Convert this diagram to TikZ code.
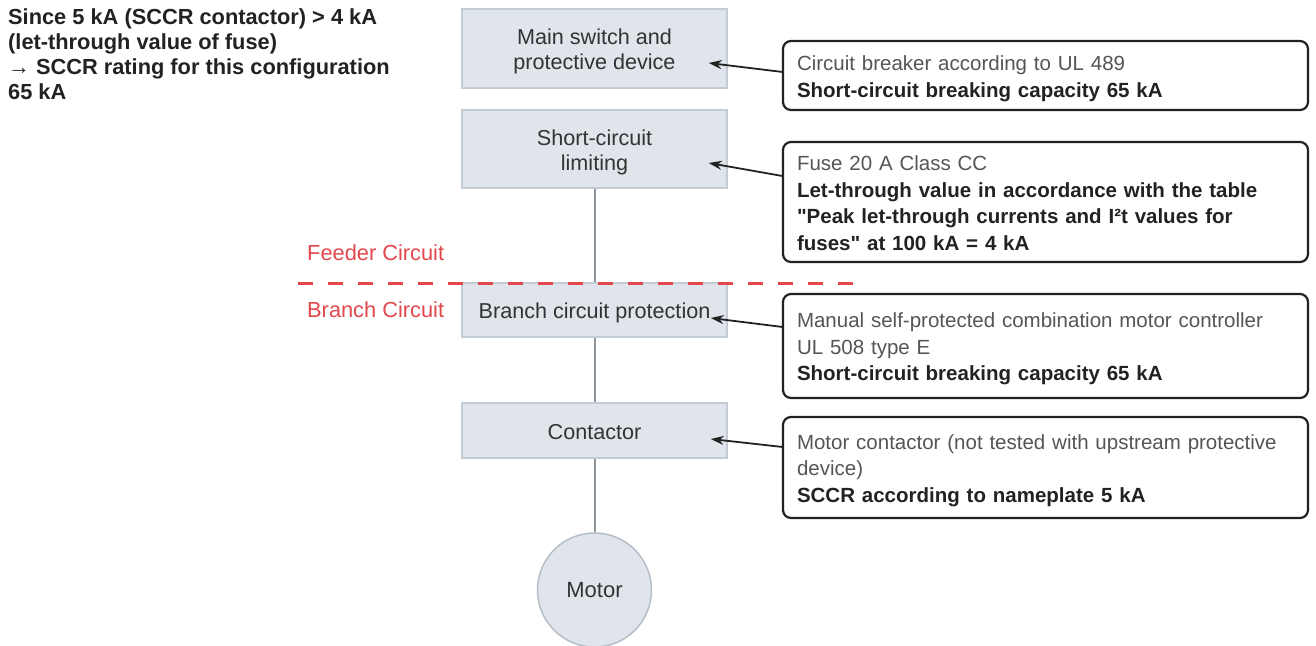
\documentclass[tikz,border=0pt]{standalone}
\usepackage{fontspec}
\setmainfont{Liberation Sans}
\setmonofont{Liberation Sans}
\usetikzlibrary{arrows.meta,calc}
\definecolor{boxfill}{HTML}{DFE5EB}
\definecolor{boxline}{HTML}{C3CCD5}
\definecolor{motorline}{HTML}{B5BEC7}
\definecolor{wirec}{HTML}{8D969E}
\definecolor{redc}{HTML}{E2474C}
\definecolor{txt}{HTML}{333333}
\definecolor{txtlight}{HTML}{555555}
\definecolor{txtdark}{HTML}{222222}
\newcommand\topstrut{\rule{0pt}{22.5pt}}
\newcommand\botstrut{\rule[-5pt]{0pt}{5pt}}
\newcommand\ntopstrut{\rule{0pt}{21pt}}
\newcommand\nbotstrut{\rule[-4.5pt]{0pt}{4.5pt}}
\newcommand\sq{{\ttfamily"}}
\begin{document}
\begin{tikzpicture}[x=1pt,y=-1pt,
 stage/.style={draw=boxline, line width=1.5pt, fill=boxfill, minimum width=265pt, align=center, text=txt, font=\fontsize{21.6}{25}\selectfont, inner sep=0pt},
 note/.style={draw=txtdark, line width=2.2pt, rounded corners=8pt, fill=white, text width=497pt, inner xsep=14pt, inner ysep=0pt, align=left, font=\fontsize{20.5}{26.5}\selectfont, text=txtlight},
 wire/.style={draw=wirec, line width=2pt},
 ptr/.style={draw=txtdark, line width=1.8pt, -{Stealth[length=13pt,width=9pt]}},
 lbl/.style={text=redc, font=\fontsize{21.8}{24}\selectfont, anchor=west, inner sep=0pt},
 hl/.style={text=txtdark, font=\fontsize{21.8}{24.7}\selectfont\bfseries, anchor=north west, inner sep=0pt, align=left},
]
\useasboundingbox (0,0) rectangle (1316,645);
% summary
\node[hl] (sum) at (8,9) {Since 5 kA (SCCR contactor) > 4 kA\\(let-through value of fuse)\\→ SCCR rating for this configuration\\65 kA};
% chain
\node[stage, minimum height=79pt] (b1) at (594.5,48.5) {\topstrut Main switch and\\protective device\botstrut};
\node[stage, minimum height=78pt] (b2) at (594.5,149) {\topstrut Short-circuit\\limiting\botstrut};
\node[stage, minimum height=54pt] (b3) at (594.5,310) {\topstrut Branch circuit protection\botstrut};
\node[stage, minimum height=55pt] (b4) at (594.5,430.5) {\topstrut Contactor\botstrut};
\node[circle, draw=motorline, fill=boxfill, line width=1.5pt, minimum size=114pt, inner sep=0pt, text=txt, font=\fontsize{22}{24}\selectfont] (m) at (594.5,590) {Motor};
\draw[wire] (b2.south) -- (b3.north);
\draw[wire] (b3.south) -- (b4.north);
\draw[wire] (b4.south) -- (m.north);
% notes
\node[note, minimum height=69pt] (na) at (1045.5,75.5) {\ntopstrut Circuit breaker according to UL 489\\{\color{txtdark}\bfseries Short-circuit breaking capacity 65 kA}\nbotstrut};
\node[note, minimum height=120pt] (nb) at (1045.5,202) {\ntopstrut Fuse 20 A Class CC\\{\color{txtdark}\bfseries Let-through value in accordance with the table\\\sq Peak let-through currents and I²t values for\\fuses\sq{} at 100 kA = 4 kA}\nbotstrut};
\node[note, minimum height=104pt] (nc) at (1045.5,346) {\ntopstrut Manual self-protected combination motor controller\\UL 508 type E\\{\color{txtdark}\bfseries Short-circuit breaking capacity 65 kA}\nbotstrut};
\node[note, minimum height=101pt] (nd) at (1045.5,467.5) {\ntopstrut Motor contactor (not tested with upstream protective\\device)\\{\color{txtdark}\bfseries SCCR according to nameplate 5 kA}\nbotstrut};
\draw[ptr] ($(na.north west)+(0,32)$) -- ($(b1.east)+(-19,14.5)$);
\draw[ptr] ($(nb.north west)+(0,35)$) -- ($(b2.east)+(-19,14)$);
\draw[ptr] ($(nc.north west)+(0,34)$) -- ($(b3.east)+(-17,8)$);
\draw[ptr] ($(nd.north west)+(0,31)$) -- ($(b4.east)+(-17,8.5)$);
% feeder / branch boundary
\node[lbl] (feeder) at (307,253) {Feeder Circuit};
\node[lbl] (branch) at (307,310) {Branch Circuit};
\coordinate (dl) at (298,283);
\coordinate (dr) at (858,283);
\draw[redc, line width=3pt, dash pattern=on 15pt off 15pt] (dl) -- (dr);
\end{tikzpicture}
\end{document}
